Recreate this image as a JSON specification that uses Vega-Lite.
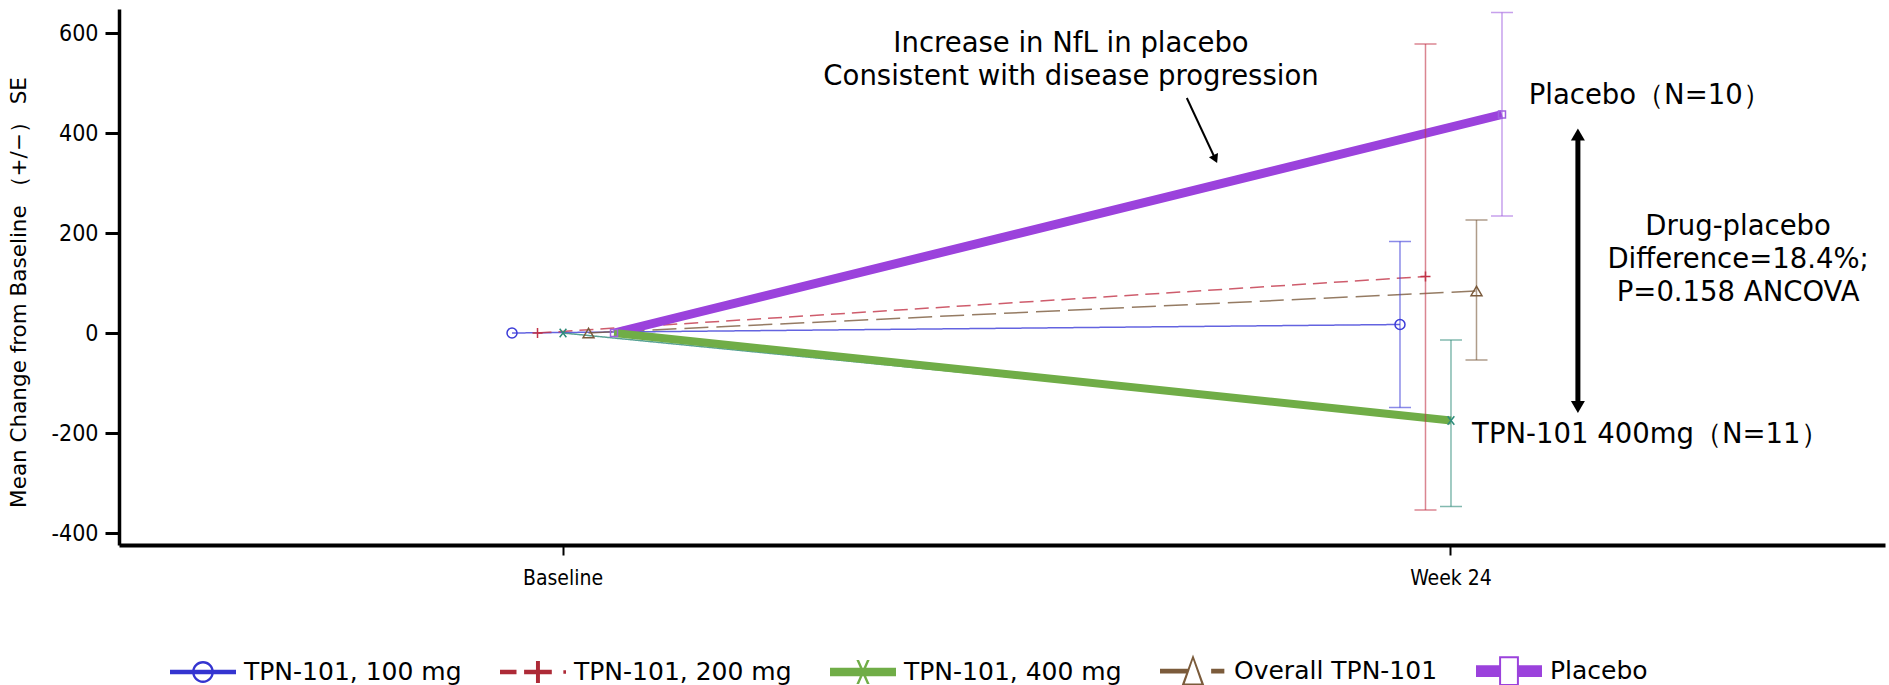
{
  "$schema": "https://vega.github.io/schema/vega-lite/v6.json",
  "width": 1766,
  "height": 536,
  "autosize": {"type": "none"},
  "padding": {"left": 119, "top": 9, "right": 4, "bottom": 140},
  "background": "white",
  "config": {"view": {"stroke": null}, "font": "DejaVu Sans"},
  "datasets": {
    "main": [
      {"series": "TPN-101, 100 mg", "visit": "Baseline", "value": 0},
      {"series": "TPN-101, 200 mg", "visit": "Baseline", "value": 0},
      {"series": "TPN-101, 400 mg", "visit": "Baseline", "value": 0},
      {"series": "Overall TPN-101", "visit": "Baseline", "value": 0},
      {"series": "Placebo", "visit": "Baseline", "value": 0},
      {"series": "TPN-101, 100 mg", "visit": "Week 24", "value": 17, "lo": -149, "hi": 183},
      {"series": "TPN-101, 200 mg", "visit": "Week 24", "value": 113, "lo": -354, "hi": 578},
      {"series": "TPN-101, 400 mg", "visit": "Week 24", "value": -175, "lo": -347, "hi": -14},
      {"series": "Overall TPN-101", "visit": "Week 24", "value": 84, "lo": -54, "hi": 226},
      {"series": "Placebo", "visit": "Week 24", "value": 437, "lo": 234, "hi": 641}
    ],
    "thick": [
      {"line": "Placebo", "visit": "Baseline", "dodge": "Placebo", "value": 0},
      {"line": "Placebo", "visit": "Week 24", "dodge": "Placebo", "value": 437},
      {"line": "TPN-101, 400 mg", "visit": "Baseline", "dodge": "Placebo", "value": 0},
      {"line": "TPN-101, 400 mg", "visit": "Week 24", "dodge": "TPN-101, 400 mg", "value": -175}
    ],
    "notes": [
      {"note": "nfl", "wk": 13.73, "value": 578, "text": "Increase in NfL in placebo\nConsistent with disease progression"},
      {"note": "diff", "wk": 31.76, "value": 213, "text": "Drug-placebo\nDifference=18.4%;\nP=0.158 ANCOVA"},
      {"note": "placebo", "wk": 26.1, "value": 474, "text": "Placebo（N=10）"},
      {"note": "tpn", "wk": 24.57, "value": -204, "text": "TPN-101 400mg（N=11）"}
    ],
    "arrows": [
      {"arrow": "a1", "wk": 16.86, "value": 470},
      {"arrow": "a1", "wk": 17.63, "value": 348},
      {"arrow": "a2", "wk": 27.43, "value": 397},
      {"arrow": "a2", "wk": 27.43, "value": -148}
    ],
    "heads": [
      {"head": "a1", "wk": 17.63, "value": 348},
      {"head": "a2top", "wk": 27.43, "value": 397},
      {"head": "a2bottom", "wk": 27.43, "value": -148}
    ]
  },
  "layer": [
    {
      "layer": [
        {
          "data": {"name": "main"},
          "mark": {"type": "line", "strokeWidth": 1.5, "opacity": 0.8},
          "encoding": {
            "x": {"field": "visit", "type": "nominal", "title": null,
              "scale": {"type": "band", "domain": ["Baseline", "Week 24"], "paddingInner": 1, "paddingOuter": 0.4944, "align": 0.5057},
              "axis": {"grid": false, "domainColor": "black", "domainWidth": 4, "tickColor": "black", "tickWidth": 2, "tickSize": 10, "labelPadding": 12, "labelFont": "DejaVu Sans Condensed, DejaVu Sans", "labelFontSize": 21, "labelColor": "black", "labelAngle": 0, "title": null}},
            "xOffset": {"field": "series", "type": "nominal",
              "scale": {"type": "point", "domain": ["TPN-101, 100 mg", "TPN-101, 200 mg", "TPN-101, 400 mg", "Overall TPN-101", "Placebo"], "range": [-51, 51], "padding": 0}},
            "y": {"field": "value", "type": "quantitative", "title": "Mean Change from Baseline （+/−） SE",
              "scale": {"domain": [-424, 648], "nice": false, "zero": false},
              "axis": {"values": [-400, -200, 0, 200, 400, 600], "labelExpr": "'' + datum.value", "grid": false, "domainColor": "black", "domainWidth": 3.5, "tickColor": "black", "tickWidth": 3, "tickSize": 14, "labelPadding": 7, "labelFont": "DejaVu Sans Condensed, DejaVu Sans", "labelFontSize": 23, "labelColor": "black", "titleFont": "DejaVu Sans", "titleFontSize": 21.5, "titleFontWeight": "normal", "titleColor": "black", "titleX": -100, "titleY": 283, "titleAngle": -90, "titleAlign": "center", "titleBaseline": "middle"}},
            "color": {"field": "series", "type": "nominal", "legend": null,
              "scale": {"range": ["#7a5a3c", "#a060e0", "#3c3cd8", "#c23347", "#2e8b7a"]}},
            "strokeDash": {"field": "series", "type": "nominal", "legend": null,
              "scale": {"range": [[24, 8], [1, 0], [1, 0], [14, 7], [1, 0]]}}
          }
        },
        {
          "data": {"name": "thick"},
          "transform": [{"filter": "datum.line === 'Placebo'"}],
          "mark": {"type": "line", "strokeWidth": 9, "color": "#9b42dc"},
          "encoding": {
            "x": {"field": "visit", "type": "nominal", "title": null, "scale": {"type": "band", "domain": ["Baseline", "Week 24"], "paddingInner": 1, "paddingOuter": 0.4944, "align": 0.5057}},
            "xOffset": {"field": "dodge", "type": "nominal"},
            "y": {"field": "value", "type": "quantitative", "title": "Mean Change from Baseline （+/−） SE"}
          }
        },
        {
          "data": {"name": "thick"},
          "transform": [{"filter": "datum.line === 'TPN-101, 400 mg'"}],
          "mark": {"type": "line", "strokeWidth": 8, "color": "#70ad47"},
          "encoding": {
            "x": {"field": "visit", "type": "nominal", "title": null, "scale": {"type": "band", "domain": ["Baseline", "Week 24"], "paddingInner": 1, "paddingOuter": 0.4944, "align": 0.5057}},
            "xOffset": {"field": "dodge", "type": "nominal"},
            "y": {"field": "value", "type": "quantitative", "title": "Mean Change from Baseline （+/−） SE"}
          }
        },
        {
          "data": {"name": "main"},
          "transform": [{"filter": "isValid(datum.lo)"}],
          "mark": {"type": "rule", "strokeWidth": 1.5, "opacity": 0.6},
          "encoding": {
            "x": {"field": "visit", "type": "nominal", "title": null, "scale": {"type": "band", "domain": ["Baseline", "Week 24"], "paddingInner": 1, "paddingOuter": 0.4944, "align": 0.5057}},
            "xOffset": {"field": "series", "type": "nominal"},
            "y": {"field": "lo", "type": "quantitative", "title": "Mean Change from Baseline （+/−） SE"},
            "y2": {"field": "hi"},
            "color": {"field": "series", "type": "nominal", "legend": null}
          }
        },
        {
          "data": {"name": "main"},
          "transform": [{"filter": "isValid(datum.lo)"}],
          "mark": {"type": "tick", "size": 22, "thickness": 1.5, "opacity": 0.6, "orient": "horizontal"},
          "encoding": {
            "x": {"field": "visit", "type": "nominal", "title": null, "scale": {"type": "band", "domain": ["Baseline", "Week 24"], "paddingInner": 1, "paddingOuter": 0.4944, "align": 0.5057}},
            "xOffset": {"field": "series", "type": "nominal"},
            "y": {"field": "lo", "type": "quantitative", "title": "Mean Change from Baseline （+/−） SE"},
            "color": {"field": "series", "type": "nominal", "legend": null}
          }
        },
        {
          "data": {"name": "main"},
          "transform": [{"filter": "isValid(datum.hi)"}],
          "mark": {"type": "tick", "size": 22, "thickness": 1.5, "opacity": 0.6, "orient": "horizontal"},
          "encoding": {
            "x": {"field": "visit", "type": "nominal", "title": null, "scale": {"type": "band", "domain": ["Baseline", "Week 24"], "paddingInner": 1, "paddingOuter": 0.4944, "align": 0.5057}},
            "xOffset": {"field": "series", "type": "nominal"},
            "y": {"field": "hi", "type": "quantitative", "title": "Mean Change from Baseline （+/−） SE"},
            "color": {"field": "series", "type": "nominal", "legend": null}
          }
        },
        {
          "data": {"name": "main"},
          "transform": [{"filter": "datum.series === 'TPN-101, 100 mg'"}],
          "mark": {"type": "point", "shape": "circle", "size": 100, "filled": false, "strokeWidth": 1.5, "opacity": 1, "color": "#3c3cd8"},
          "encoding": {
            "x": {"field": "visit", "type": "nominal", "title": null, "scale": {"type": "band", "domain": ["Baseline", "Week 24"], "paddingInner": 1, "paddingOuter": 0.4944, "align": 0.5057}},
            "xOffset": {"field": "series", "type": "nominal"},
            "y": {"field": "value", "type": "quantitative", "title": "Mean Change from Baseline （+/−） SE"}
          }
        },
        {
          "data": {"name": "main"},
          "transform": [{"filter": "datum.series === 'TPN-101, 200 mg'"}],
          "mark": {"type": "point", "shape": "M-1,0H1M0,-1V1", "size": 100, "filled": false, "strokeWidth": 1.5, "opacity": 1, "color": "#c23347"},
          "encoding": {
            "x": {"field": "visit", "type": "nominal", "title": null, "scale": {"type": "band", "domain": ["Baseline", "Week 24"], "paddingInner": 1, "paddingOuter": 0.4944, "align": 0.5057}},
            "xOffset": {"field": "series", "type": "nominal"},
            "y": {"field": "value", "type": "quantitative", "title": "Mean Change from Baseline （+/−） SE"}
          }
        },
        {
          "data": {"name": "main"},
          "transform": [{"filter": "datum.series === 'TPN-101, 400 mg'"}],
          "mark": {"type": "point", "shape": "M-0.8,-1L0.8,1M0.8,-1L-0.8,1", "size": 70, "filled": false, "strokeWidth": 1.5, "opacity": 1, "color": "#2e8b7a"},
          "encoding": {
            "x": {"field": "visit", "type": "nominal", "title": null, "scale": {"type": "band", "domain": ["Baseline", "Week 24"], "paddingInner": 1, "paddingOuter": 0.4944, "align": 0.5057}},
            "xOffset": {"field": "series", "type": "nominal"},
            "y": {"field": "value", "type": "quantitative", "title": "Mean Change from Baseline （+/−） SE"}
          }
        },
        {
          "data": {"name": "main"},
          "transform": [{"filter": "datum.series === 'Overall TPN-101'"}],
          "mark": {"type": "point", "shape": "triangle-up", "size": 120, "filled": false, "strokeWidth": 1.5, "opacity": 1, "color": "#7a5a3c"},
          "encoding": {
            "x": {"field": "visit", "type": "nominal", "title": null, "scale": {"type": "band", "domain": ["Baseline", "Week 24"], "paddingInner": 1, "paddingOuter": 0.4944, "align": 0.5057}},
            "xOffset": {"field": "series", "type": "nominal"},
            "y": {"field": "value", "type": "quantitative", "title": "Mean Change from Baseline （+/−） SE"}
          }
        },
        {
          "data": {"name": "main"},
          "transform": [{"filter": "datum.series === 'Placebo'"}],
          "mark": {"type": "point", "shape": "square", "size": 49, "filled": false, "strokeWidth": 1.5, "opacity": 1, "color": "#a060e0"},
          "encoding": {
            "x": {"field": "visit", "type": "nominal", "title": null, "scale": {"type": "band", "domain": ["Baseline", "Week 24"], "paddingInner": 1, "paddingOuter": 0.4944, "align": 0.5057}},
            "xOffset": {"field": "series", "type": "nominal"},
            "y": {"field": "value", "type": "quantitative", "title": "Mean Change from Baseline （+/−） SE"}
          }
        },
        {
          "data": {"name": "main"},
          "mark": {"type": "point", "filled": true, "size": 0, "strokeWidth": 0, "fillOpacity": 1, "opacity": 1},
          "encoding": {
            "x": {"field": "visit", "type": "nominal", "title": null, "scale": {"type": "band", "domain": ["Baseline", "Week 24"], "paddingInner": 1, "paddingOuter": 0.4944, "align": 0.5057}},
            "xOffset": {"field": "series", "type": "nominal"},
            "y": {"field": "value", "type": "quantitative", "title": "Mean Change from Baseline （+/−） SE"},
            "fill": {"field": "series", "type": "nominal",
              "scale": {"domain": ["TPN-101, 100 mg", "TPN-101, 200 mg", "TPN-101, 400 mg", "Overall TPN-101", "Placebo"], "range": ["#3434d0", "#ad2a37", "#70ad47", "#7b5b3b", "#9b42dc"]},
              "legend": {
                "title": null, "orient": "none", "legendX": 51, "legendY": 629, "direction": "horizontal", "columns": 5, "columnPadding": 38, "padding": 0,
                "symbolSize": 4356, "symbolOpacity": 1, "symbolStrokeWidth": 0, "labelOffset": 8, "labelFont": "DejaVu Sans", "labelFontSize": 25, "labelColor": "black", "labelLimit": 400
              }},
            "shape": {"field": "series", "type": "nominal",
              "scale": {"domain": ["TPN-101, 100 mg", "TPN-101, 200 mg", "TPN-101, 400 mg", "Overall TPN-101", "Placebo"],
                "range": [
                  "M-1,-0.07H1V0.07H-1ZM0.33,0A0.33,0.33,0,1,1,-0.33,0A0.33,0.33,0,1,1,0.33,0ZM0.26,0A0.26,0.26,0,1,0,-0.26,0A0.26,0.26,0,1,0,0.26,0Z",
                  "M-1,-0.07H-0.5V0.07H-1ZM-0.27,-0.07H0.57V0.07H-0.27ZM0.09,-0.33H0.21V0.33H0.09ZM0.92,-0.05H1V0.05H0.92Z",
                  "M-1,-0.13H1V0.13H-1ZM-0.2,-0.36L-0.12,-0.36L0.2,0.36L0.12,0.36ZM0.12,-0.36L0.2,-0.36L-0.12,0.36L-0.2,0.36Z",
                  "M-1,-0.07H-0.16V0.07H-1ZM0,-0.5L0.35,0.45L-0.35,0.45ZM0,-0.34L-0.25,0.38L0.25,0.38ZM0.55,-0.07H0.95V0.07H0.55Z",
                  "M-1,-0.18H-0.3V0.18H-1ZM0.3,-0.18H1V0.18H0.3ZM-0.3,-0.45H0.3V0.45H-0.3ZM-0.24,-0.39V0.39H0.24V-0.39Z"
                ]}}
          }
        }
      ]
    },
    {
      "layer": [
        {
          "data": {"name": "notes"},
          "transform": [{"filter": "datum.note === 'nfl' || datum.note === 'diff'"}],
          "mark": {"type": "text", "fontSize": 27.5, "lineHeight": 33, "lineBreak": "\n", "align": "center", "baseline": "middle", "color": "black", "font": "DejaVu Sans"},
          "encoding": {
            "x": {"field": "wk", "type": "quantitative", "axis": null, "scale": {"domain": [-12, 35.73], "nice": false, "zero": false}},
            "y": {"field": "value", "type": "quantitative", "axis": null, "scale": {"domain": [-424, 648], "nice": false, "zero": false}},
            "text": {"field": "text", "type": "nominal"}
          }
        },
        {
          "data": {"name": "notes"},
          "transform": [{"filter": "datum.note === 'placebo' || datum.note === 'tpn'"}],
          "mark": {"type": "text", "fontSize": 27.5, "align": "left", "baseline": "middle", "color": "black", "font": "DejaVu Sans"},
          "encoding": {
            "x": {"field": "wk", "type": "quantitative", "axis": null},
            "y": {"field": "value", "type": "quantitative", "axis": null},
            "text": {"field": "text", "type": "nominal"}
          }
        },
        {
          "data": {"name": "arrows"},
          "transform": [{"filter": "datum.arrow === 'a1'"}],
          "mark": {"type": "line", "strokeWidth": 2, "color": "black"},
          "encoding": {
            "x": {"field": "wk", "type": "quantitative", "axis": null},
            "y": {"field": "value", "type": "quantitative", "axis": null}
          }
        },
        {
          "data": {"name": "arrows"},
          "transform": [{"filter": "datum.arrow === 'a2'"}],
          "mark": {"type": "line", "strokeWidth": 5, "color": "black"},
          "encoding": {
            "x": {"field": "wk", "type": "quantitative", "axis": null},
            "y": {"field": "value", "type": "quantitative", "axis": null}
          }
        },
        {
          "data": {"name": "heads"},
          "transform": [{"filter": "datum.head === 'a1'"}],
          "mark": {"type": "point", "shape": "triangle-down", "angle": 335, "size": 100, "filled": true, "color": "black", "opacity": 1},
          "encoding": {
            "x": {"field": "wk", "type": "quantitative", "axis": null},
            "y": {"field": "value", "type": "quantitative", "axis": null}
          }
        },
        {
          "data": {"name": "heads"},
          "transform": [{"filter": "datum.head === 'a2top'"}],
          "mark": {"type": "point", "shape": "triangle-up", "size": 196, "filled": true, "color": "black", "opacity": 1},
          "encoding": {
            "x": {"field": "wk", "type": "quantitative", "axis": null},
            "y": {"field": "value", "type": "quantitative", "axis": null}
          }
        },
        {
          "data": {"name": "heads"},
          "transform": [{"filter": "datum.head === 'a2bottom'"}],
          "mark": {"type": "point", "shape": "triangle-down", "size": 196, "filled": true, "color": "black", "opacity": 1},
          "encoding": {
            "x": {"field": "wk", "type": "quantitative", "axis": null},
            "y": {"field": "value", "type": "quantitative", "axis": null}
          }
        }
      ]
    }
  ],
  "resolve": {"scale": {"x": "independent", "xOffset": "independent"}, "axis": {"x": "independent", "y": "independent"}}
}
